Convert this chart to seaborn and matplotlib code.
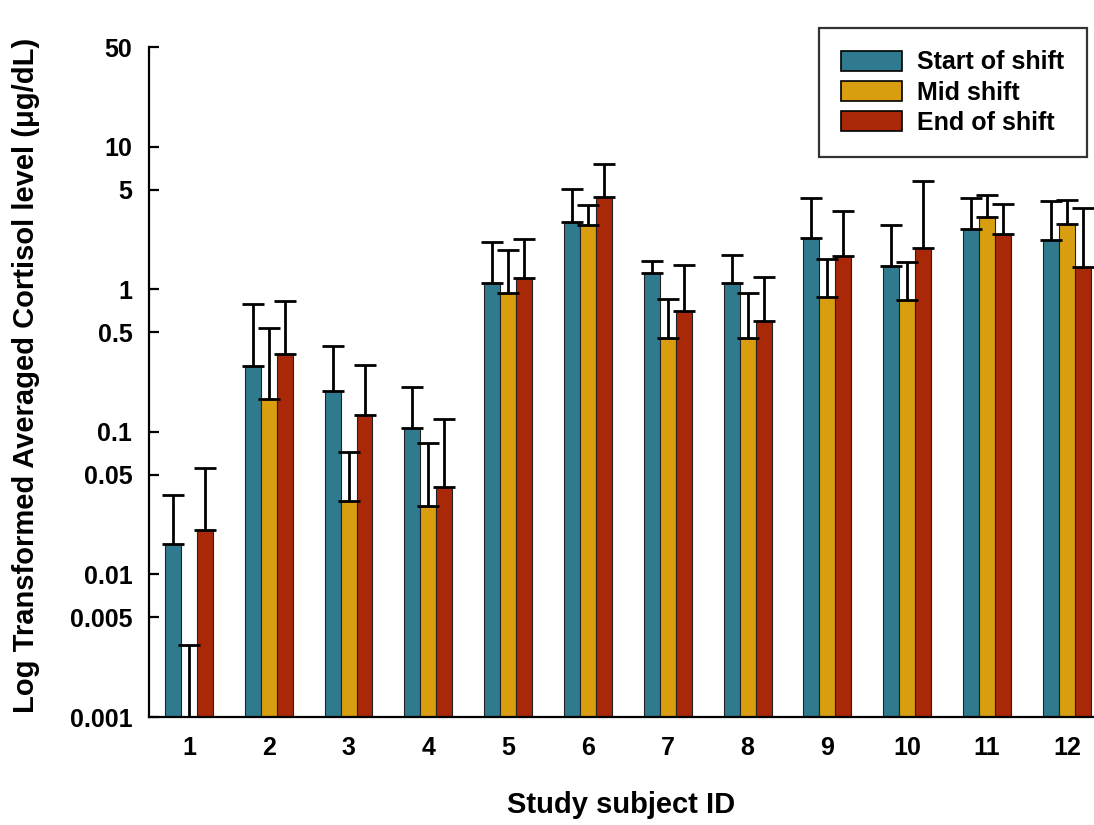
import numpy as np
import pandas as pd
import matplotlib
matplotlib.use("Agg")
import matplotlib.pyplot as plt
import seaborn as sns

# data (ug/dL)
subjects = [str(i) for i in range(1, 13)]
shifts = ["Start of shift", "Mid shift", "End of shift"]

start_mean = [0.0163, 0.290, 0.192, 0.106, 1.11, 2.95, 1.29, 1.10, 2.30, 1.46, 2.65, 2.20]
mid_mean = [0.001, 0.170, 0.0327, 0.0303, 0.94, 2.81, 0.458, 0.458, 0.883, 0.847, 3.20, 2.87]
end_mean = [0.0205, 0.351, 0.132, 0.041, 1.19, 4.43, 0.705, 0.600, 1.72, 1.95, 2.43, 1.43]

start_upper = [0.036, 0.785, 0.401, 0.207, 2.14, 5.08, 1.57, 1.73, 4.39, 2.84, 4.39, 4.14]
mid_upper = [0.0032, 0.539, 0.0717, 0.083, 1.90, 3.88, 0.861, 0.948, 1.64, 1.56, 4.58, 4.20]
end_upper = [0.056, 0.833, 0.293, 0.124, 2.27, 7.52, 1.47, 1.21, 3.52, 5.74, 3.99, 3.71]

yticks = [0.001, 0.005, 0.01, 0.05, 0.1, 0.5, 1, 5, 10, 50]
ytick_labels = ["0.001", "0.005", "0.01", "0.05", "0.1", "0.5", "1", "5", "10", "50"]

colors = ["#2f7a8e", "#d89e10", "#a82808"]

means = [start_mean, mid_mean, end_mean]
uppers = [start_upper, mid_upper, end_upper]

df = pd.DataFrame({
    "subject": subjects * 3,
    "shift": np.repeat(shifts, len(subjects)),
    "value": start_mean + mid_mean + end_mean,
})

sns.set_style("white")
plt.rcParams["font.family"] = ["Liberation Sans", "DejaVu Sans"]
plt.rcParams["font.weight"] = "bold"
plt.rcParams["text.color"] = "black"
plt.rcParams["axes.labelcolor"] = "black"
plt.rcParams["xtick.color"] = "black"
plt.rcParams["ytick.color"] = "black"

fig = plt.figure(figsize=(10.94, 8.25), dpi=100)
ax = fig.add_axes([0.1362, 0.1309, 0.8638, 0.8121])

sns.barplot(data=df, x="subject", y="value", hue="shift", hue_order=shifts,
            order=subjects, palette=colors, saturation=1, width=0.6, gap=0,
            edgecolor="#222222", linewidth=0.8, errorbar=None, ax=ax)
ax.set_yscale("log")

# upward-only error bars on each bar centre
bar_conts = list(ax.containers)
for k, cont in enumerate(bar_conts):
    xs = [p.get_x() + p.get_width() / 2 for p in cont.patches]
    m = np.array(means[k])
    up = np.array(uppers[k]) - m
    ax.errorbar(xs, m, yerr=[np.zeros_like(m), up], fmt="none",
                ecolor="black", elinewidth=2.0, capsize=7.8, capthick=2.0,
                zorder=1)

ax.set_ylim(0.001, 50)
ax.set_xlim(-0.5, 11.34)
ax.set_yticks(yticks)
ax.set_yticklabels(ytick_labels)
ax.yaxis.set_minor_locator(matplotlib.ticker.NullLocator())

for s in ["top", "right"]:
    ax.spines[s].set_visible(False)
for s in ["left", "bottom"]:
    ax.spines[s].set_linewidth(1.6)
    ax.spines[s].set_color("black")

ax.tick_params(axis="y", which="major", direction="in", length=7, width=1.6,
               labelsize=18, pad=12, left=True)
ax.tick_params(axis="x", length=0, labelsize=18, pad=14)
for lab in ax.get_xticklabels() + ax.get_yticklabels():
    lab.set_fontweight("bold")

ax.set_xlabel("Study subject ID", fontsize=21, fontweight="bold", labelpad=22)
ax.set_ylabel("Log Transformed Averaged Cortisol level (\u03bcg/dL)",
              fontsize=21, fontweight="bold")
ax.yaxis.set_label_coords(-0.115, 0.51)

leg = ax.legend(loc="upper right", bbox_to_anchor=(0.9926, 1.0284),
                prop={"size": 18, "weight": "bold"}, frameon=True,
                fancybox=False, edgecolor="black", handlelength=2.45,
                handleheight=0.85, labelspacing=0.25, borderpad=0.9,
                handletextpad=0.6, borderaxespad=0)
leg.get_frame().set_linewidth(1.6)
for h in leg.legend_handles:
    h.set_edgecolor("black")
    h.set_linewidth(1.2)

fig.savefig("out.png", dpi=100)
